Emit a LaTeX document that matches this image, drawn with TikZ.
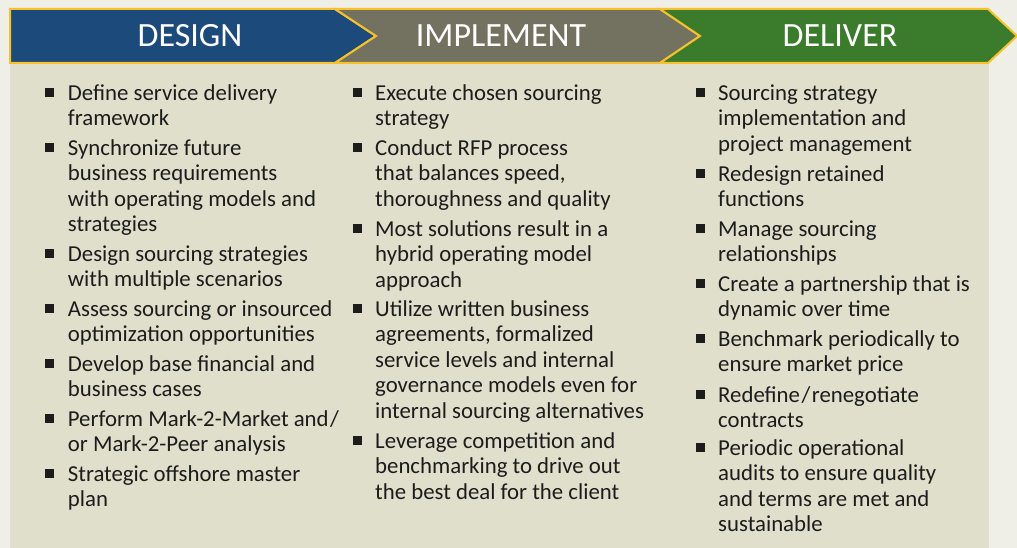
\documentclass[tikz,border=0pt]{standalone}
\usepackage{fontspec}
\setmainfont{Carlito}
\definecolor{bgcol}{HTML}{EFEFE8}
\definecolor{panelcol}{HTML}{DFDFCC}
\definecolor{edgecol}{HTML}{F8C12B}
\definecolor{designcol}{HTML}{1B4A7B}
\definecolor{implcol}{HTML}{737160}
\definecolor{delivcol}{HTML}{3A7B2C}
\definecolor{ink}{HTML}{1C1C1C}
\newcommand{\bul}{\llap{\rule[3pt]{9pt}{9pt}\hspace{13.5pt}}\rule{0pt}{18pt}}
\begin{document}
	\begin{tikzpicture}[x=1pt,y=-1pt]
		\tikzstyle{head}=[anchor=base,text=white,font=\fontsize{34}{40}\selectfont]
		\tikzstyle{item}=[anchor=north west,inner sep=0pt,align=left,text=ink,font=\fontsize{22.8}{25.5}\selectfont]
		\tikzstyle{chevron}=[draw=edgecol,line width=2pt,line join=miter]
		\useasboundingbox (0,0) rectangle (1017,548);
		\fill[bgcol] (0,0) rectangle (1017,548);
		\fill[panelcol] (10,63) rectangle (989,548);
		\filldraw[chevron,fill=designcol] (10,9) -- (335,9) -- (376,36) -- (335,63) -- (10,63) -- cycle;
		\filldraw[chevron,fill=implcol] (335,9) -- (660,9) -- (700,36) -- (660,63) -- (335,63) -- (376,36) -- cycle;
		\filldraw[chevron,fill=delivcol] (660,9) -- (988,9) -- (1017,36) -- (988,63) -- (660,63) -- (700,36) -- cycle;
		\node[head] (design) at (190,47) {DESIGN};
		\node[head] (implement) at (501,47) {IMPLEMENT};
		\node[head] (deliver) at (840,47) {DELIVER};
		\node[item] (ds_1) at (67.7,82) {\bul Define service delivery\\framework};
		\node[item] (ds_2) at (67.7,137) {\bul Synchronize future\\business requirements\\with operating models and\\strategies};
		\node[item] (ds_3) at (67.7,243) {\bul Design sourcing strategies\\with multiple scenarios};
		\node[item] (ds_4) at (67.7,298) {\bul Assess sourcing or insourced\\optimization opportunities};
		\node[item] (ds_5) at (67.7,353) {\bul Develop base financial and\\business cases};
		\node[item] (ds_6) at (67.7,408) {\bul Perform Mark-2-Market and\kern1.5pt/\\or Mark-2-Peer analysis};
		\node[item] (ds_7) at (67.7,463) {\bul Strategic offshore master\\plan};
		\node[item] (im_1) at (375,82) {\bul Execute chosen sourcing\\strategy};
		\node[item] (im_2) at (375,137) {\bul Conduct RFP process\\that balances speed,\\thoroughness and quality};
		\node[item] (im_3) at (375,218) {\bul Most solutions result in a\\hybrid operating model\\approach};
		\node[item] (im_4) at (375,298) {\bul Utilize written business\\agreements, formalized\\service levels and internal\\governance models even for\\internal sourcing alternatives};
		\node[item] (im_5) at (375,430) {\bul Leverage competition and\\benchmarking to drive out\\the best deal for the client};
		\node[item] (dl_1) at (718,82) {\bul Sourcing strategy\\implementation and\\project management};
		\node[item] (dl_2) at (718,163) {\bul Redesign retained\\functions};
		\node[item] (dl_3) at (718,218) {\bul Manage sourcing\\relationships};
		\node[item] (dl_4) at (718,273) {\bul Create a partnership that is\\dynamic over time};
		\node[item] (dl_5) at (718,328) {\bul Benchmark periodically to\\ensure market price};
		\node[item] (dl_6) at (718,384) {\bul Redefine\kern1.5pt/\kern1.5pt renegotiate\\contracts};
		\node[item] (dl_7) at (718,437) {\bul Periodic operational\\audits to ensure quality\\and terms are met and\\sustainable};
	\end{tikzpicture}
\end{document}
